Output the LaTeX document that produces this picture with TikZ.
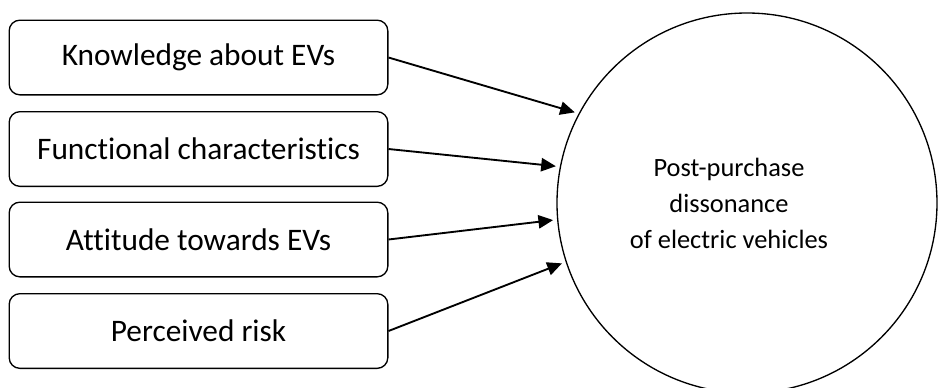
\documentclass[tikz,border=0pt]{standalone}
\usepackage{fontspec}
\setmainfont{Carlito}[Ligatures=NoCommon]
\usetikzlibrary{arrows.meta,positioning}

\begin{document}
\begin{tikzpicture}[
    x=0.75pt, y=-0.75pt,
    factor/.style={rectangle, draw, rounded corners=8pt, line width=1pt, minimum width=284pt, minimum height=56pt, align=center, font=\fontsize{23.5}{28}\selectfont},
    outcome/.style={circle, draw, line width=1pt, minimum size=285pt},
    link/.style={-{Triangle[length=11pt,width=10pt]}, line width=1.4pt, shorten >=3pt}
]
\useasboundingbox (0,0) rectangle (940,387);

\node[factor] (know) at (198.5, 57.5) {Knowledge about EVs};
\node[factor] (func) at (198.5, 149) {Functional characteristics};
\node[factor] (att) at (198.5, 239.5) {Attitude towards EVs};
\node[factor] (risk) at (198.5, 331) {Perceived risk};

\node[outcome] (post) at (747, 203) {};
\node[align=center, font=\fontsize{19.8}{27}\selectfont] (postlabel) at ([xshift=-13.5pt]post.center) {Post-purchase\\dissonance\\of electric vehicles};

\draw[link] (know.east) -- (post.152);
\draw[link] (func.east) -- (post.169);
\draw[link] (att.east) -- (post.185);
\draw[link] (risk.east) -- (post.198);

\end{tikzpicture}
\end{document}
